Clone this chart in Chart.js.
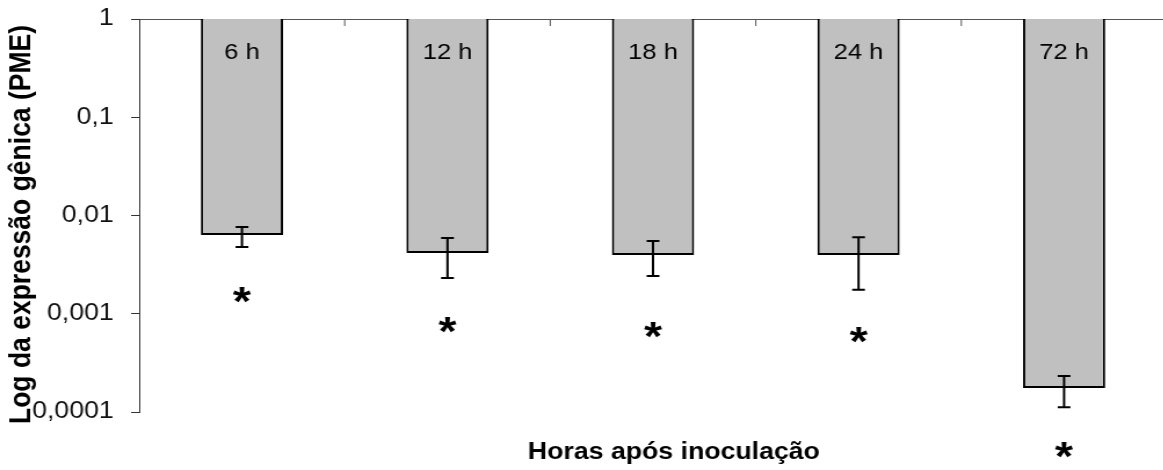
<!DOCTYPE html>
<html>
<head>
<meta charset="utf-8">
<script src="https://cdn.jsdelivr.net/npm/chart.js@4.4.0/dist/chart.umd.min.js"></script>
<style>
  html, body { margin: 0; padding: 0; background: #fff; overflow: hidden; }
</style>
</head>
<body>
<!-- the reference is stretched sideways, so the canvas is drawn narrower and scaled up -->
<canvas id="c" width="1007" height="470" style="width:1168px;height:470px;display:block"></canvas>
<script>
const categories = ['6 h', '12 h', '18 h', '24 h', '72 h'];
const expression = [0.00634, 0.00415, 0.00396, 0.00396, 0.000175];
const errHigh = [0.00764, 0.0059, 0.0055, 0.0060, 0.000232];
const errLow = [0.00478, 0.00231, 0.00242, 0.00175, 0.000112];
// where the significance asterisk sits, in axis units
const starLevel = [0.00155, 0.000769, 0.000684, 0.000608, 0.000041];
const yTickValues = [1, 0.1, 0.01, 0.001, 0.0001];
const yTitle = 'Log da expressão gênica (PME)';
const xTitle = 'Horas após inoculação';

const FONT = '"Liberation Sans", Arial, sans-serif';

const extras = {
  id: 'extras',
  afterDatasetsDraw(chart) {
    const ctx = chart.ctx;
    const x = chart.scales.x;
    const y = chart.scales.y;
    const a = chart.chartArea;
    ctx.save();

    // small inner ticks on the top axis, between categories
    ctx.strokeStyle = '#555';
    ctx.lineWidth = 1;
    for (let i = 1; i < categories.length; i++) {
      const px = (x.getPixelForValue(i - 1) + x.getPixelForValue(i)) / 2;
      ctx.beginPath();
      ctx.moveTo(px, a.top);
      ctx.lineTo(px, a.top + 7);
      ctx.stroke();
    }

    // error bars
    ctx.strokeStyle = '#000';
    ctx.lineWidth = 2;
    categories.forEach((c, i) => {
      const px = x.getPixelForValue(i);
      const y1 = y.getPixelForValue(errHigh[i]);
      const y2 = y.getPixelForValue(errLow[i]);
      ctx.beginPath();
      ctx.moveTo(px, y1); ctx.lineTo(px, y2);
      ctx.moveTo(px - 5.5, y1); ctx.lineTo(px + 5.5, y1);
      ctx.moveTo(px - 5.5, y2); ctx.lineTo(px + 5.5, y2);
      ctx.stroke();
    });

    // labels inside the bars
    ctx.fillStyle = '#000';
    ctx.font = '22px ' + FONT;
    ctx.textAlign = 'center';
    ctx.textBaseline = 'middle';
    categories.forEach((c, i) => {
      ctx.fillText(c, x.getPixelForValue(i), a.top + 34);
    });

    // asterisks
    ctx.font = 'bold 40px ' + FONT;
    ctx.textBaseline = 'alphabetic';
    const m = ctx.measureText('*');
    const shift = (m.actualBoundingBoxAscent - m.actualBoundingBoxDescent) / 2;
    categories.forEach((c, i) => {
      ctx.fillText('*', x.getPixelForValue(i), y.getPixelForValue(starLevel[i]) + shift);
    });

    // x axis title (axis itself sits on top)
    ctx.font = 'bold 23px ' + FONT;
    ctx.textBaseline = 'middle';
    ctx.fillText(xTitle, (a.left + a.right) / 2 + 18, a.bottom + 41);

    // y axis title, sits a little lower than the axis middle
    ctx.translate(19, (a.top + a.bottom) / 2 + 9);
    ctx.rotate(-Math.PI / 2);
    ctx.font = 'bold 26.5px ' + FONT;
    ctx.fillText(yTitle, 0, 0);

    ctx.restore();
  }
};

new Chart(document.getElementById('c'), {
  type: 'bar',
  data: {
    labels: categories,
    datasets: [{
      data: expression.map(v => [v, 1]),
      backgroundColor: '#c0c0c0',
      borderColor: '#000',
      borderWidth: 2,
      borderSkipped: 'top',
      categoryPercentage: 1,
      barPercentage: 0.4
    }]
  },
  options: {
    responsive: false,
    animation: false,
    layout: { padding: { top: 19, right: 1, bottom: 58, left: 0 } },
    plugins: { legend: { display: false }, tooltip: { enabled: false } },
    scales: {
      x: {
        position: 'top',
        offset: true,
        ticks: { display: false },
        grid: { display: false },
        border: { display: true, color: '#555', width: 1 },
        afterFit(scale) { scale.height = 0; }
      },
      y: {
        type: 'logarithmic',
        min: 0.0001,
        max: 1,
        afterBuildTicks(scale) {
          scale.ticks = yTickValues.map(v => ({ value: v }));
        },
        afterFit(scale) {
          scale.width = 120;
          scale.paddingTop = 0;
          scale.paddingBottom = 0;
        },
        ticks: {
          color: '#111',
          padding: 15,
          font: { family: FONT, size: 23 },
          callback: v => String(v).replace('.', ',')
        },
        grid: { drawOnChartArea: false, tickLength: 7, color: '#333', lineWidth: 1 },
        border: { display: true, color: '#333', width: 1 }
      }
    }
  },
  plugins: [extras]
});
</script>
</body>
</html>
